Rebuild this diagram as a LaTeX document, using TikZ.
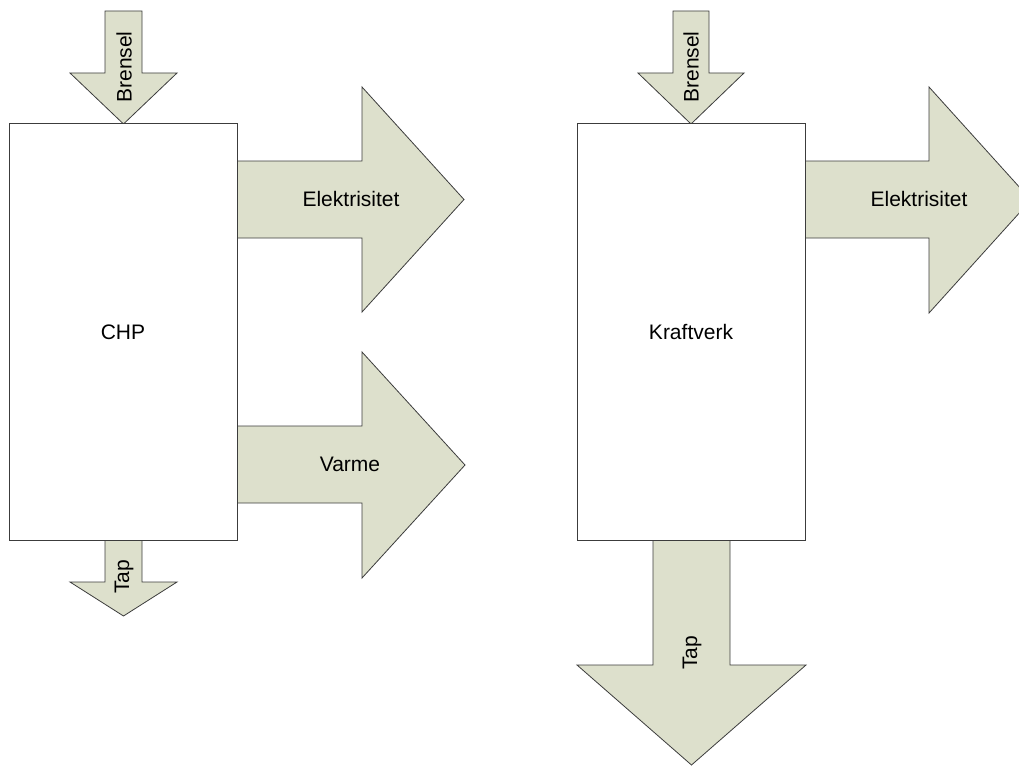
\documentclass[tikz,border=0pt]{standalone}
\usepackage{fontspec}
\setmainfont{Liberation Sans}
\definecolor{flowfill}{RGB}{221,224,204}
\definecolor{edgegray}{RGB}{60,60,60}
\begin{document}
\begin{tikzpicture}[x=1pt,y=-1pt,
  unit/.style={draw=edgegray, line width=1pt, fill=white, inner sep=0pt,
    minimum width=228pt, minimum height=416pt,
    font=\fontsize{21}{25}\selectfont},
  flow/.style={draw=edgegray, line width=0.8pt, fill=flowfill, line join=miter},
  lbl/.style={font=\fontsize{21}{25}\selectfont, inner sep=0pt}]
\useasboundingbox (0,0) rectangle (1019,765);
\clip (0,0) rectangle (1019,765);

% ---- CHP plant ----
\draw[flow] (105,11) -- (142,11) -- (142,73) -- (177,73) -- (123.5,124) -- (70,73) -- (105,73) -- cycle;
\draw[flow] (236,161) -- (362,161) -- (362,87) -- (464,199.5) -- (362,312) -- (362,238) -- (236,238) -- cycle;
\draw[flow] (236,426) -- (362,426) -- (362,352) -- (465,465) -- (362,578) -- (362,503) -- (236,503) -- cycle;
\draw[flow] (105,540) -- (142,540) -- (142,582) -- (177,582) -- (123.5,616) -- (70,582) -- (105,582) -- cycle;
\node[unit] (chp) at (123,332) {CHP};
\node[lbl, rotate=90] (chpfuel) at (124,67) {Brensel};
\node[lbl] (chpel) at (351,199) {Elektrisitet};
\node[lbl] (chpheat) at (350,464) {Varme};
\node[lbl, rotate=90] (chploss) at (124,577) {Tap};

% ---- Power plant ----
\draw[flow] (673,11) -- (709,11) -- (709,73) -- (744,73) -- (691,124) -- (638,73) -- (673,73) -- cycle;
\draw[flow] (805,161) -- (929,161) -- (929,87) -- (1031,200) -- (929,313) -- (929,238) -- (805,238) -- cycle;
\draw[flow] (653,540) -- (730,540) -- (730,665) -- (806,665) -- (691.5,765) -- (577,665) -- (653,665) -- cycle;
\node[unit] (pp) at (691,332) {Kraftverk};
\node[lbl, rotate=90] (ppfuel) at (691,67) {Brensel};
\node[lbl] (ppel) at (919,199) {Elektrisitet};
\node[lbl, rotate=90] (pploss) at (692,653) {Tap};
\end{tikzpicture}
\end{document}
